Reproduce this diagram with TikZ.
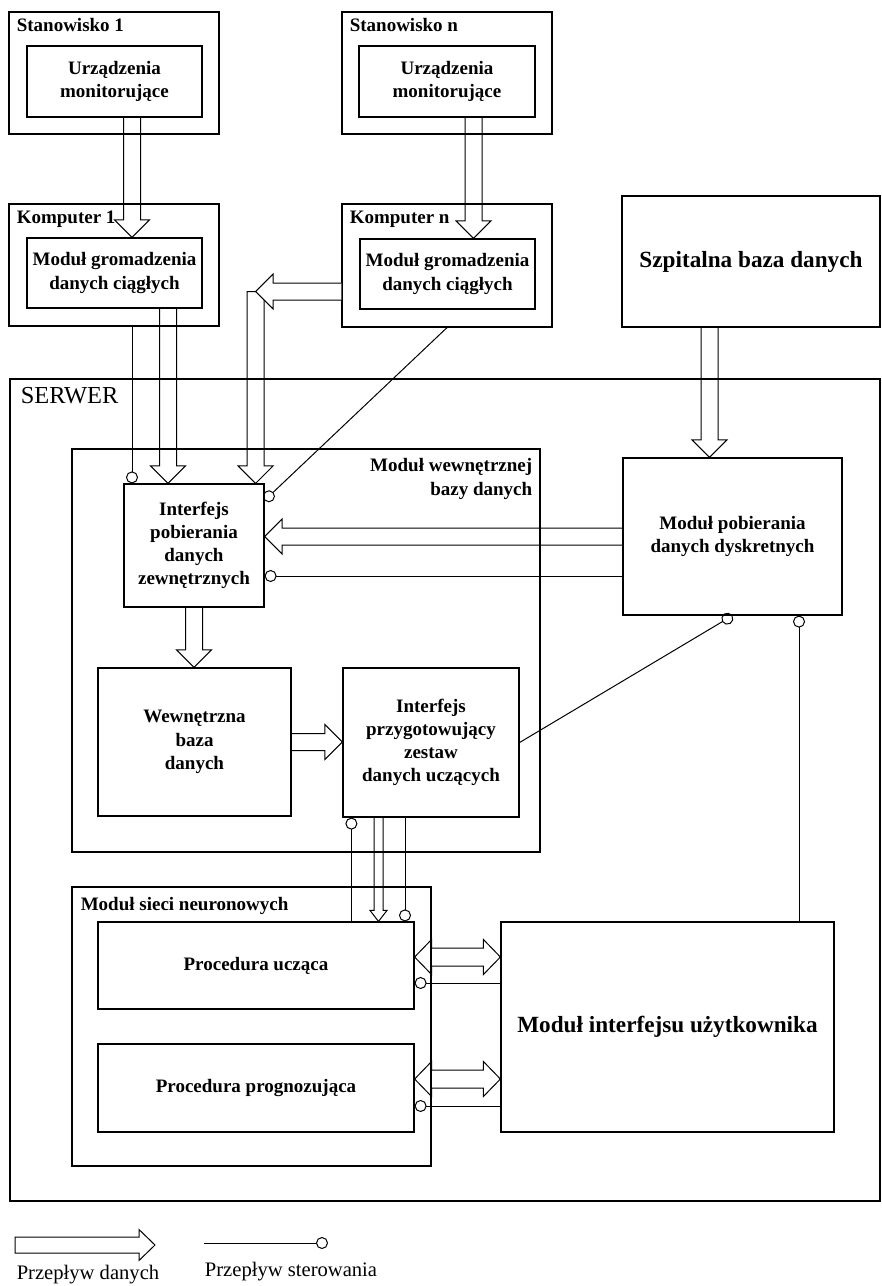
\documentclass[tikz,border=0pt]{standalone}
\usepackage{fontspec}
\setmainfont{Liberation Serif}
\usetikzlibrary{calc, arrows.meta}

\newcommand{\boxfont}{\fontsize{9.5}{11.6}\selectfont\bfseries}
\newcommand{\bigboxfont}{\fontsize{11.6}{14}\selectfont\bfseries}
\newcommand{\serverfont}{\fontsize{12.2}{14}\selectfont}
\newcommand{\legendfont}{\fontsize{10.3}{12}\selectfont}

\tikzset{
  box/.style={draw, line width=0.6pt, align=center, font=\boxfont, inner sep=1pt},
  frame/.style={draw, line width=0.6pt},
  tag/.style={anchor=north west, font=\boxfont, inner xsep=4pt, inner ysep=3.5pt},
  ctrl/.style={line width=0.5pt, -{Circle[open, length=6pt, width=6pt]}},
  flowline/.style={draw, line width=0.5pt, line join=miter},
  flow shaft/.store in=\flowshaft, flow shaft=4.25pt,
  flow head/.store in=\flowhead, flow head=8.75pt,
  flow tip/.store in=\flowtip, flow tip=8.75pt,
  flow closed/.code={\def\flowend{-- cycle}},
  thin flow/.style={flow shaft=2.25pt, flow head=4.25pt, flow tip=5.5pt},
}
\def\flowend{}

% hollow data arrow: \dataflow[opts]{from}{to}
\newcommand{\dataflow}[3][]{%
  \begin{scope}[#1]
    \coordinate (fl-b) at ($(#3)!\flowtip!(#2)$);
    \draw[flowline,#1] ($(#2)!\flowshaft!90:(#3)$) -- ($(fl-b)!\flowshaft!90:(#3)$)
      -- ($(fl-b)!\flowhead!90:(#3)$) -- (#3) -- ($(fl-b)!\flowhead!-90:(#3)$)
      -- ($(fl-b)!\flowshaft!-90:(#3)$) -- ($(#2)!\flowshaft!-90:(#3)$) \flowend;
  \end{scope}}
% hollow data arrow with two heads
\newcommand{\datatwoway}[3][]{%
  \begin{scope}[#1]
    \coordinate (fl-a) at ($(#2)!\flowtip!(#3)$);
    \coordinate (fl-b) at ($(#3)!\flowtip!(#2)$);
    \draw[flowline,#1] (#2) -- ($(fl-a)!\flowhead!90:(#3)$) -- ($(fl-a)!\flowshaft!90:(#3)$)
      -- ($(fl-b)!\flowshaft!90:(#3)$) -- ($(fl-b)!\flowhead!90:(#3)$) -- (#3)
      -- ($(fl-b)!\flowhead!-90:(#3)$) -- ($(fl-b)!\flowshaft!-90:(#3)$)
      -- ($(fl-a)!\flowshaft!-90:(#3)$) -- ($(fl-a)!\flowhead!-90:(#3)$) -- cycle;
  \end{scope}}

\begin{document}
\begin{tikzpicture}[x=0.5pt, y=-0.5pt]
\useasboundingbox (0,0) rectangle (882,1286);
% stanowiska
\node[frame, minimum width=105pt, minimum height=61pt] (st1) at (114,73) {};
\node[tag] at (st1.north west) {Stanowisko 1};
\node[box, minimum width=87.5pt, minimum height=35.5pt] (urz1) at (114.5,81.5) {Urządzenia\\monitorujące};
\node[frame, minimum width=105pt, minimum height=61pt] (stn) at (447,73) {};
\node[tag] at (stn.north west) {Stanowisko n};
\node[box, minimum width=88pt, minimum height=35.5pt] (urzn) at (447,81.5) {Urządzenia\\monitorujące};
% komputery
\node[frame, minimum width=105pt, minimum height=61pt] (kom1) at (114,265) {};
\node[tag] at (kom1.north west) {Komputer 1};
\node[box, minimum width=87.5pt, minimum height=35pt] (mod1) at (114.5,273) {Moduł gromadzenia\\danych ciągłych};
\node[frame, minimum width=105pt, minimum height=61.5pt] (komn) at (447,265.5) {};
\node[tag] at (komn.north west) {Komputer n};
\node[box, minimum width=87.5pt, minimum height=35pt] (modn) at (447.5,274) {Moduł gromadzenia\\danych ciągłych};
\node[box, font=\bigboxfont, minimum width=129pt, minimum height=65.5pt] (szp) at (751,261.5) {Szpitalna baza danych};
% serwer
\node[frame, minimum width=435pt, minimum height=411pt] (serwer) at (445,790) {};
\node[tag, font=\serverfont, inner xsep=5.5pt, inner ysep=4.5pt] at (serwer.north west) {SERWER};
\node[frame, minimum width=234pt, minimum height=201.5pt] (mwb) at (306,650.5) {};
\node[tag, anchor=north east, align=right, inner ysep=5pt] at (mwb.north east) {Moduł wewnętrznej\\bazy danych};
\node[box, minimum width=70pt, minimum height=61.5pt] (ipd) at (194,545.5) {Interfejs\\pobierania\\danych\\zewnętrznych};
\node[box, minimum width=96.5pt, minimum height=74pt] (wbd) at (194.5,742) {Wewnętrzna\\baza\\danych};
\node[box, minimum width=88pt, minimum height=74.5pt] (ipz) at (431,742.5) {Interfejs\\przygotowujący\\zestaw\\danych uczących};
\node[box, minimum width=109.5pt, minimum height=78.5pt] (mpd) at (732.5,536.5) {Moduł pobierania\\danych dyskretnych};
\node[frame, minimum width=179.5pt, minimum height=139.5pt] (msn) at (251.5,1026.5) {};
\node[tag, inner xsep=4.5pt, inner ysep=5.5pt] at (msn.north west) {Moduł sieci neuronowych};
\node[box, minimum width=158pt, minimum height=43.5pt] (pu) at (256,965.5) {Procedura ucząca};
\node[box, minimum width=158pt, minimum height=44pt] (pp) at (256,1088) {Procedura prognozująca};
\node[box, font=\bigboxfont, minimum width=166.5pt, minimum height=105pt] (miu) at (667.5,1027) {Moduł interfejsu użytkownika};

% przeplyw danych
\coordinate (d0) at ([xshift=8.75pt]urz1.south);
\dataflow{d0}{d0 |- mod1.north}
\coordinate (d1) at ([xshift=13.25pt]urzn.south);
\dataflow{d1}{d1 |- modn.north}
\coordinate (d2) at ([xshift=26.75pt]mod1.south);
\dataflow{d2}{d2 |- ipd.north}
\coordinate (d3) at ([yshift=-13pt]komn.west);
\coordinate (knee) at ([xshift=-4.5pt]ipd.north east);
\dataflow[flow closed]{knee |- d3}{knee}
\dataflow[fill=white]{d3}{knee |- d3}
\coordinate (d4) at ([xshift=-20.75pt]szp.south);
\dataflow{d4}{d4 |- mpd.north}
\dataflow{mpd.west}{mpd.west -| ipd.east}
\dataflow{ipd.south}{ipd.south |- wbd.north}
\dataflow{wbd.east}{wbd.east -| ipz.west}
\coordinate (d5) at ([xshift=-26.25pt]ipz.south);
\dataflow[thin flow]{d5}{d5 |- pu.north}
\coordinate (d6) at ([yshift=4.25pt]pu.east);
\datatwoway[flow shaft=4.5pt, flow tip=8.5pt]{d6}{d6 -| miu.west}
\coordinate (d7) at ([yshift=4.5pt]pp.east);
\datatwoway[flow shaft=4.5pt, flow tip=8.5pt]{d7}{d7 -| miu.west}

% przeplyw sterowania
\coordinate (c1) at ([xshift=9pt]kom1.south);
\draw[ctrl] (c1) -- (c1 |- ipd.north);
\coordinate (c2) at ([yshift=-8.5pt]ipd.north east);
\draw[ctrl] (komn.south) -- (c2);
\coordinate (c3) at ([yshift=-19.75pt]mpd.west);
\draw[ctrl] (c3) -- (c3 -| ipd.east);
\draw[ctrl] (ipz.east) -- (mpd.south);
\coordinate (c4) at ([xshift=65.75pt]miu.north);
\draw[ctrl] (c4) -- (c4 |- mpd.south);
\coordinate (c5) at ([xshift=4.5pt]ipz.south west);
\draw[ctrl] (c5 |- pu.north) -- (c5);
\coordinate (c6) at ([xshift=-13pt]ipz.south);
\draw[ctrl] (c6) -- (c6 |- pu.north);
\coordinate (c7) at ([yshift=-8.75pt]pu.east);
\draw[ctrl] (c7 -| miu.west) -- (c7);
\coordinate (c8) at ([yshift=-9pt]pp.east);
\draw[ctrl] (c8 -| miu.west) -- (c8);

% legenda
\coordinate (lgd0) at (15,1245);
\coordinate (lgd1) at (155,1245);
\dataflow[flow closed, flow shaft=4pt, flow head=7.75pt, flow tip=8pt]{lgd0}{lgd1}
\node[font=\legendfont] (lgdtxt) at (88,1275) {Przepływ danych};
\coordinate (lgc0) at (204,1243);
\coordinate (lgc1) at (328,1243);
\draw[ctrl] (lgc0) -- (lgc1);
\node[font=\legendfont] (lgctxt) at (291,1272) {Przepływ sterowania};
\end{tikzpicture}
\end{document}
